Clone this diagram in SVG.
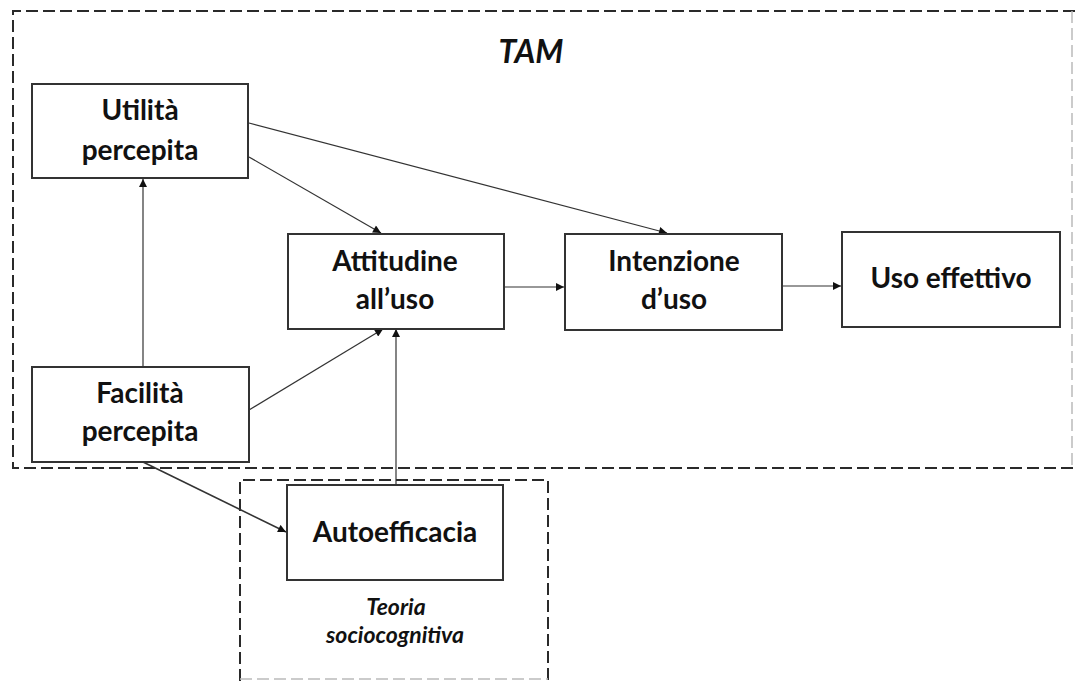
<svg xmlns="http://www.w3.org/2000/svg" width="1075" height="681" viewBox="0 0 1075 681">
  <style>
    .frame { fill: none; stroke: #2a2a2a; stroke-width: 2; stroke-dasharray: 12 5; }
    .frame-faint { fill: none; stroke: #bbb; stroke-width: 1.5; stroke-dasharray: 12 5; }
    .box { fill: #fff; stroke: #333; stroke-width: 2; }
    .lbl { font-family: Lato, "Liberation Sans", sans-serif; font-weight: 700; font-size: 28px; fill: #111; text-anchor: middle; }
    .cap { font-family: Lato, "Liberation Sans", sans-serif; font-weight: 700; font-style: italic; fill: #111; text-anchor: middle; }
    .edge { fill: none; stroke: #333; stroke-width: 1.2; marker-end: url(#tip); }
  </style>
  <defs>
    <marker id="tip" viewBox="0 0 10 10" refX="10" refY="5" markerWidth="9" markerHeight="8" markerUnits="userSpaceOnUse" orient="auto">
      <path d="M0,0 L10,5 L0,10 Z" fill="#111"/>
    </marker>
  </defs>
  <rect width="1075" height="681" fill="#fff"/>

  <!-- TAM frame -->
  <g id="tam-frame">
    <path class="frame" d="M1075,11 H13 V468 H1075"/>
    <path class="frame-faint" d="M1072,11 V468"/>
    <text class="cap" x="531" y="63" font-size="32">TAM</text>
  </g>

  <!-- Social cognitive theory frame -->
  <g id="sct-frame">
    <path class="frame" d="M240,681 V480 H548 V681"/>
    <path class="frame-faint" d="M240,679 H548"/>
    <text class="cap" x="396" y="615" font-size="23">Teoria</text>
    <text class="cap" x="395" y="643" font-size="23">sociocognitiva</text>
  </g>

  <!-- connectors -->
  <g id="connectors">
    <line class="edge" x1="143" y1="366" x2="143" y2="179"/>
    <line class="edge" x1="249" y1="157" x2="381" y2="233"/>
    <line class="edge" x1="249" y1="123" x2="667" y2="233"/>
    <line class="edge" x1="249" y1="410" x2="383" y2="329"/>
    <line class="edge" x1="396" y1="485" x2="396" y2="329"/>
    <line class="edge" x1="504" y1="287" x2="564" y2="287"/>
    <line class="edge" x1="782" y1="286" x2="841" y2="286"/>
    <line class="edge" x1="143" y1="462" x2="286" y2="532" style="stroke-width:1.6"/>
  </g>

  <g id="utilita">
    <rect class="box" x="32" y="84" width="216" height="94"/>
    <text class="lbl" x="140" y="120">Utilità</text>
    <text class="lbl" x="140" y="160">percepita</text>
  </g>
  <g id="facilita">
    <rect class="box" x="32" y="367" width="217" height="95"/>
    <text class="lbl" x="140" y="403">Facilità</text>
    <text class="lbl" x="140" y="441">percepita</text>
  </g>
  <g id="attitudine">
    <rect class="box" x="288" y="234" width="216" height="95"/>
    <text class="lbl" x="395" y="271">Attitudine</text>
    <text class="lbl" x="395" y="309">all’uso</text>
  </g>
  <g id="intenzione">
    <rect class="box" x="565" y="234" width="217" height="96"/>
    <text class="lbl" x="674" y="271">Intenzione</text>
    <text class="lbl" x="674" y="309">d’uso</text>
  </g>
  <g id="uso">
    <rect class="box" x="842" y="232" width="218" height="95"/>
    <text class="lbl" x="951" y="288">Uso effettivo</text>
  </g>
  <g id="autoefficacia">
    <rect class="box" x="287" y="485" width="216" height="95"/>
    <text class="lbl" x="395" y="542">Autoefficacia</text>
  </g>
</svg>
